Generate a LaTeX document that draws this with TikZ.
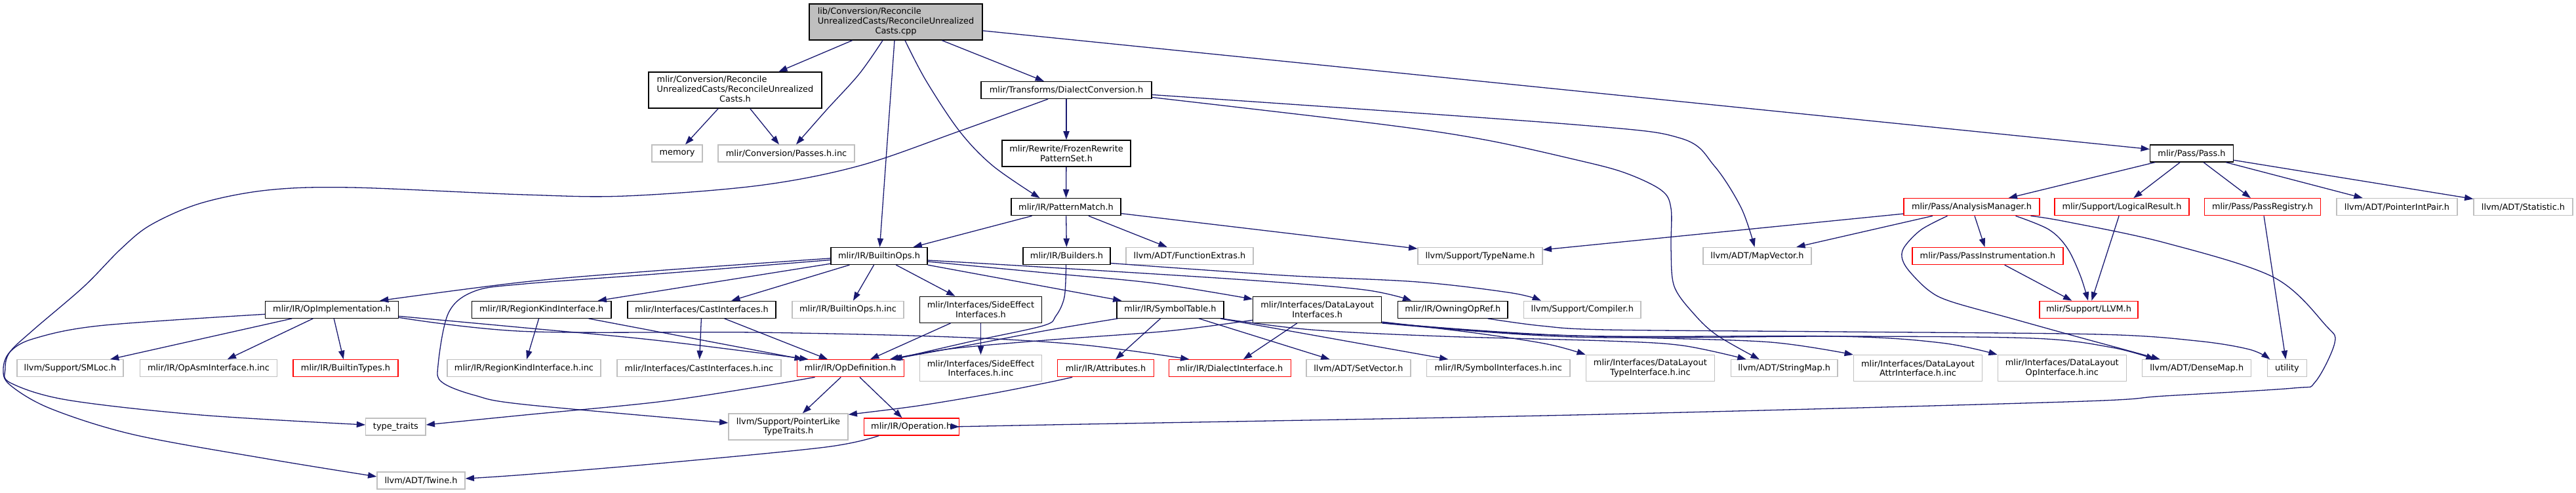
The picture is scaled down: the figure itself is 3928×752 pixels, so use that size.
\documentclass[tikz,border=0pt]{standalone}
\usepackage{fontspec}
\setmainfont{DejaVu Sans}
\usetikzlibrary{arrows.meta,calc}
\definecolor{edgec}{HTML}{191970}
\definecolor{greyb}{HTML}{BFBFBF}
\newcommand\fs{\fontsize{12.9}{14.7}\selectfont}
\newcommand\N[7]{\node[#1,minimum width=#5pt,minimum height=#6pt] (#2) at (#3,#4) {#7};}
\newcommand\lnk[1]{\draw[e] plot[smooth,tension=0.55] coordinates {#1};}
\begin{document}
\begin{tikzpicture}[x=1pt,y=-1pt,
  nb/.style={draw=black, fill=white, line width=1.3pt, inner sep=0pt, align=center, font=\fs},
  nroot/.style={nb, fill=greyb},
  nr/.style={nb, draw=red},
  ng/.style={nb, draw=greyb},
  e/.style={draw=edgec, line width=1.3pt, -{Triangle[length=13.3pt,width=9.3pt]}}]
\useasboundingbox (0,0) rectangle (3928,752);
% ---------------- nodes
\N{nroot}{root}{1366}{33.5}{264}{55}{\begin{tabular}{@{}l@{}}lib/Conversion/Reconcile\\UnrealizedCasts/ReconcileUnrealized\\\multicolumn{1}{@{}c@{}}{Casts.cpp}\end{tabular}}
\N{nb}{rcast}{1121}{137.5}{264}{55}{\begin{tabular}{@{}l@{}}mlir/Conversion/Reconcile\\UnrealizedCasts/ReconcileUnrealized\\\multicolumn{1}{@{}c@{}}{Casts.h}\end{tabular}}
\N{nb}{dconv}{1626}{137.5}{260}{26}{mlir/Transforms/DialectConversion.h}
\N{ng}{memory}{1032.5}{234}{77}{26}{memory}
\N{ng}{passinc}{1199}{234}{208}{26}{mlir/Conversion/Passes.h.inc}
\N{nb}{frozen}{1626}{234}{196}{40}{mlir/Rewrite/FrozenRewrite\\PatternSet.h}
\N{nb}{pass}{3342}{234}{127}{26}{mlir/Pass/Pass.h}
\N{nb}{pmatch}{1625.5}{315.7}{167}{26}{mlir/IR/PatternMatch.h}
\N{nr}{am}{3006.5}{315.7}{207}{26}{mlir/Pass/AnalysisManager.h}
\N{nr}{lres}{3235.5}{315.7}{205}{26}{mlir/Support/LogicalResult.h}
\N{nr}{preg}{3450}{315.7}{177}{26}{mlir/Pass/PassRegistry.h}
\N{ng}{ptrint}{3655}{315.7}{184}{26}{llvm/ADT/PointerIntPair.h}
\N{ng}{stat}{3847.5}{315.7}{151}{26}{llvm/ADT/Statistic.h}
\N{nb}{bops}{1340.5}{390.5}{147}{26}{mlir/IR/BuiltinOps.h}
\N{nb}{builders}{1626.5}{390.5}{133}{26}{mlir/IR/Builders.h}
\N{ng}{fextras}{1814}{390.5}{194}{26}{llvm/ADT/FunctionExtras.h}
\N{ng}{tname}{2257}{390.5}{190}{26}{llvm/Support/TypeName.h}
\N{ng}{mapvec}{2679.5}{390.5}{165}{26}{llvm/ADT/MapVector.h}
\N{nr}{pinstr}{3031}{390.5}{230}{26}{mlir/Pass/PassInstrumentation.h}
\N{nb}{opimpl}{506}{472.3}{202.5}{26}{mlir/IR/OpImplementation.h}
\N{nb}{regkind}{825.7}{472.3}{212.7}{26}{mlir/IR/RegionKindInterface.h}
\N{nb}{cast}{1070}{472.3}{226}{26}{mlir/Interfaces/CastInterfaces.h}
\N{ng}{bopsinc}{1293}{472.3}{170}{26}{mlir/IR/BuiltinOps.h.inc}
\N{nb}{sideeff}{1495.5}{472.3}{185.7}{40}{mlir/Interfaces/SideEffect\\Interfaces.h}
\N{nb}{symtab}{1784.5}{472.3}{163}{26}{mlir/IR/SymbolTable.h}
\N{nb}{dlayout}{2008.7}{472.3}{196}{40}{mlir/Interfaces/DataLayout\\Interfaces.h}
\N{nb}{owning}{2215.3}{472.3}{167.4}{26}{mlir/IR/OwningOpRef.h}
\N{ng}{compiler}{2412.8}{472.3}{178.5}{26}{llvm/Support/Compiler.h}
\N{nr}{llvmh}{3185}{472.3}{150}{26}{mlir/Support/LLVM.h}
\N{ng}{smloc}{107}{561.7}{162}{26}{llvm/Support/SMLoc.h}
\N{ng}{opasm}{318}{561.7}{209}{26}{mlir/IR/OpAsmInterface.h.inc}
\N{nr}{btypes}{527}{561.7}{160}{26}{mlir/IR/BuiltinTypes.h}
\N{ng}{regkindinc}{799}{561.7}{234}{26}{mlir/IR/RegionKindInterface.h.inc}
\N{ng}{castinc}{1066}{561.7}{250}{26}{mlir/Interfaces/CastInterfaces.h.inc}
\N{nr}{opdef}{1296.7}{561.7}{163}{26}{mlir/IR/OpDefinition.h}
\N{ng}{sideinc}{1495.5}{561.7}{185.7}{40}{mlir/Interfaces/SideEffect\\Interfaces.h.inc}
\N{nr}{attrs}{1686}{561.7}{146.4}{26}{mlir/IR/Attributes.h}
\N{nr}{dialint}{1875.5}{561.7}{185.7}{26}{mlir/IR/DialectInterface.h}
\N{ng}{setvec}{2071.4}{561.7}{159}{26}{llvm/ADT/SetVector.h}
\N{ng}{syminc}{2284.7}{561.7}{218.4}{26}{mlir/IR/SymbolInterfaces.h.inc}
\N{ng}{dltype}{2516.4}{561.7}{196}{40}{mlir/Interfaces/DataLayout\\TypeInterface.h.inc}
\N{ng}{strmap}{2720.7}{561.7}{162.7}{26}{llvm/ADT/StringMap.h}
\N{ng}{dlattr}{2924.5}{561.7}{196}{40}{mlir/Interfaces/DataLayout\\AttrInterface.h.inc}
\N{ng}{dlop}{3144.3}{561.7}{196}{40}{mlir/Interfaces/DataLayout\\OpInterface.h.inc}
\N{ng}{dmap}{3349.7}{561.7}{166}{26}{llvm/ADT/DenseMap.h}
\N{ng}{utility}{3487.4}{561.7}{59.6}{26}{utility}
\N{ng}{ttraits}{603.4}{651}{91.3}{26}{type\_traits}
\N{ng}{plike}{1202}{651}{182}{40}{llvm/Support/PointerLike\\TypeTraits.h}
\N{nr}{operation}{1389.7}{651}{145}{26}{mlir/IR/Operation.h}
\N{ng}{twine}{642}{733}{134}{26}{llvm/ADT/Twine.h}
% ---------------- straight edges
\draw[e] (root) -- (rcast);
\draw[e] (root) -- (bops);
\draw[e] (root) -- (dconv);
\draw[e] (root) -- (pass);
\draw[e] (rcast) -- (memory);
\draw[e] (rcast) -- (passinc);
\draw[e] (dconv) -- (frozen);
\draw[e] (frozen) -- (pmatch);
\draw[e] (pmatch) -- (bops);
\draw[e] (pmatch) -- (builders);
\draw[e] (pmatch) -- (fextras);
\draw[e] (pmatch) -- (tname);
\draw[e] (pass) -- (am);
\draw[e] (pass) -- (lres);
\draw[e] (pass) -- (preg);
\draw[e] (pass) -- (ptrint);
\draw[e] (pass) -- (stat);
\draw[e] (am) -- (tname);
\draw[e] (am) -- (mapvec);
\draw[e] (am) -- (pinstr);
\draw[e] (lres) -- (llvmh);
\draw[e] (preg) -- (utility);
\draw[e] (pinstr) -- (llvmh);
\draw[e] (bops) -- (regkind);
\draw[e] (bops) -- (cast);
\draw[e] (bops) -- (bopsinc);
\draw[e] (bops) -- (sideeff);
\draw[e] (bops) -- (symtab);
\draw[e] (opimpl) -- (smloc);
\draw[e] (opimpl) -- (opasm);
\draw[e] (opimpl) -- (btypes);
\draw[e] (regkind) -- (regkindinc);
\draw[e] (regkind) -- (opdef);
\draw[e] (cast) -- (castinc);
\draw[e] (cast) -- (opdef);
\draw[e] (sideeff) -- (opdef);
\draw[e] (sideeff) -- (sideinc);
\draw[e] (symtab) -- (attrs);
\draw[e] (symtab) -- (setvec);
\draw[e] (symtab) -- (syminc);
\draw[e] (dlayout) -- (dialint);
\draw[e] (opdef) -- (plike);
\draw[e] (opdef) -- (operation);
% ---------------- curved edges
\coordinate (s1) at ($(root.south)+(-20,0)$);
\coordinate (t1) at ($(passinc.north)+(15,0)$);
\lnk{(s1) (1310,113) (1260,168) (t1)}
\coordinate (s2) at ($(root.south)+(14,0)$);
\coordinate (t2) at ($(pmatch.north)+(-40,0)$);
\lnk{(s2) (1412,123) (1463,200) (1514,253) (t2)}
\coordinate (s3) at ($(dconv.south)+(-28,0)$);
\coordinate (t3) at ($(ttraits.west)+(0,-3)$);
\lnk{(s3) (1463,200) (1310,253) (1157,283) (953,299) (800,297) (536,286) (408,290) (306,310) (230,343) (184,380) (128,437) (51,503) (15,537) (8,563) (16,584) (102,610) (306,633) (t3)}
\coordinate (s4) at ($(dconv.east)+(0,7)$);
\coordinate (t4) at ($(mapvec.north)+(-4,0)$);
\lnk{(s4) (2400,190) (2563,211) (2614,253) (2655,317) (t4)}
\coordinate (s5) at ($(dconv.east)+(0,11)$);
\coordinate (t5) at ($(strmap.north)+(-38,0)$);
\lnk{(s5) (2110,190) (2263,213) (2400,243) (2476,263) (2533,290) (2548,318) (2548,380) (2553,437) (2584,480) (2619,512) (t5)}
\coordinate (s6) at ($(am.south)+(67,0)$);
\coordinate (t6) at ($(llvmh.north)+(-1,0)$);
\lnk{(s6) (3124,350) (3152,378) (3172,420) (t6)}
\coordinate (s7) at ($(am.south)+(90,0)$);
\lnk{(s7) (3150,338) (3300,370) (3467,423) (3547,497) (3560,523) (3530,583) (3497,592) (3300,604) (3150,613) (2400,633) (1600,648) (operation.east)}
\coordinate (s8) at ($(am.south)+(-37,0)$);
\coordinate (t8) at ($(dmap.north)+(-56,0)$);
\lnk{(s8) (2930,350) (2905,375) (2900,392) (2910,412) (2941,443) (2975,460) (3068,486) (3165,513) (3235,532) (t8)}
\coordinate (s9) at ($(bops.west)+(0,3.5)$);
\coordinate (t9) at ($(opimpl.north)+(73,0)$);
\lnk{(s9) (1000,413) (800,430) (t9)}
\coordinate (s10) at ($(bops.west)+(0,6)$);
\coordinate (t10) at ($(plike.west)+(0,-6)$);
\lnk{(s10) (1000,418) (800,433) (724,444) (684,477) (668,557) (674,583) (724,603) (800,617) (t10)}
\coordinate (s11) at ($(bops.east)+(0,8.5)$);
\coordinate (t11) at ($(dlayout.west)+(0,-16)$);
\lnk{(s11) (1600,416.7) (1760,432) (t11)}
\coordinate (s12) at ($(bops.east)+(0,6.5)$);
\coordinate (t12) at ($(owning.north)+(-63,0)$);
\lnk{(s12) (1600,408) (1900,427) (2080,442) (t12)}
\coordinate (s13) at ($(builders.east)+(0,11)$);
\coordinate (t13) at ($(compiler.north)+(-63,0)$);
\lnk{(s13) (1957,420) (2161,430) (2304,446.7) (t13)}
\coordinate (s14) at ($(builders.south)+(-1,0)$);
\coordinate (t14) at ($(opdef.north)+(66,0)$);
\lnk{(s14) (1623,453) (1610,482) (1590,497) (1480,521) (t14)}
\coordinate (s15) at ($(symtab.south west)+(2,0)$);
\coordinate (t15) at ($(opdef.north)+(63,0)$);
\lnk{(s15) (1600,503.3) (1480,526) (t15)}
\coordinate (s16) at ($(symtab.south east)+(-4,0)$);
\coordinate (t16) at ($(strmap.north)+(-58,0)$);
\lnk{(s16) (2000,503) (2200,513) (2450,520) (2565,527) (t16)}
\coordinate (s17) at ($(dlayout.west)+(0,16)$);
\coordinate (t17) at ($(opdef.north)+(60,0)$);
\lnk{(s17) (1780,505) (1600,518.5) (1450,532) (t17)}
\coordinate (s18) at ($(dlayout.south east)+(0,-2)$);
\lnk{(s18) (2250,508) (2360,525) (dltype.north west)}
\coordinate (s19) at ($(dlayout.south east)+(0,-1)$);
\lnk{(s19) (2300,508) (2500,515) (2700,522) (dlattr.north west)}
\coordinate (s20) at ($(dlayout.south east)+(0,-0.5)$);
\lnk{(s20) (2400,512) (2800,513) (2960,523) (dlop.north west)}
\coordinate (s21) at ($(dlayout.south east)+(0,0)$);
\coordinate (t21) at ($(dmap.north)+(-64,0)$);
\lnk{(s21) (2400,514) (2800,513) (3100,516) (3220,530) (t21)}
\coordinate (s22) at ($(owning.south east)+(-31,0)$);
\coordinate (t22) at ($(utility.north)+(-26,0)$);
\lnk{(s22) (2350,497) (2450,503) (2800,506) (3200,510) (3350,520) (3430,533) (t22)}
\coordinate (s23) at ($(attrs.south west)+(23,0)$);
\coordinate (t23) at ($(plike.north east)+(0,2)$);
\lnk{(s23) (1600,583) (1514,600) (1400,619) (t23)}
\coordinate (s24) at ($(opdef.south west)+(28,0)$);
\coordinate (t24) at ($(ttraits.east)+(0,-3)$);
\lnk{(s24) (1157,590) (1004,613) (800,633) (t24)}
\coordinate (s25) at ($(operation.south west)+(23.5,0)$);
\coordinate (t25) at ($(twine.east)+(0,-3)$);
\lnk{(s25) (1259,682) (1004,707) (800,724) (t25)}
\coordinate (s26) at ($(opimpl.west)+(0,7)$);
\coordinate (t26) at ($(twine.west)+(0,-6)$);
\lnk{(s26) (153,496.7) (51,516.7) (15,537) (5,563) (15,587) (76.5,623) (204,663) (408,700) (t26)}
\coordinate (s27) at ($(opimpl.east)+(0,10)$);
\coordinate (t27) at ($(opdef.north)+(-64,0)$);
\lnk{(s27) (800,500) (1000,519) (t27)}
\coordinate (s28) at ($(opimpl.east)+(0,12)$);
\coordinate (t28) at ($(dialint.north)+(-62,0)$);
\lnk{(s28) (800,505.5) (1150,507) (1450,514) (1650,526) (t28)}
\end{tikzpicture}
\end{document}
